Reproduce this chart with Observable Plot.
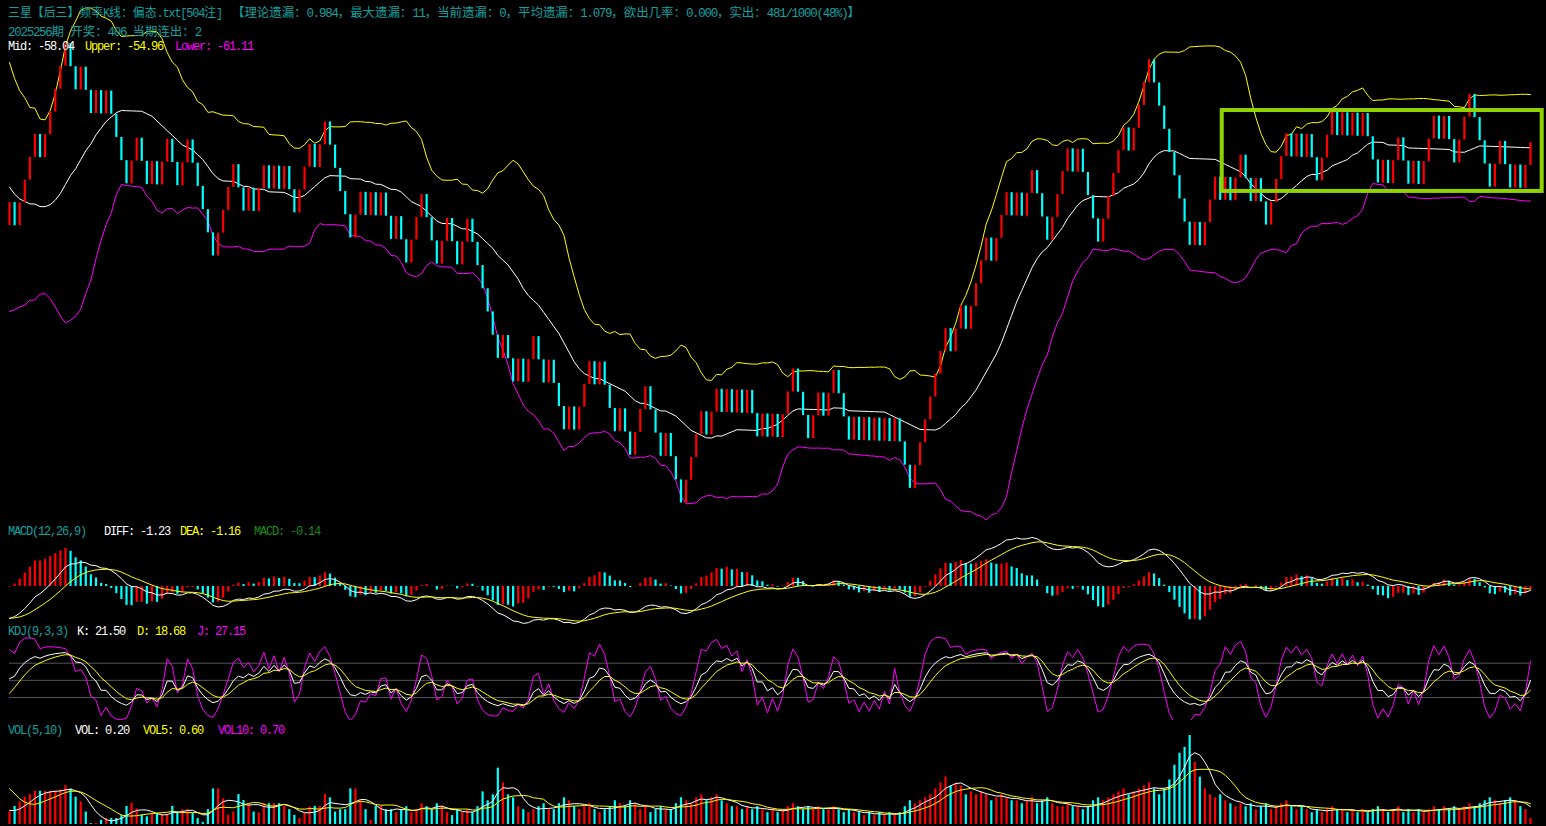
<!DOCTYPE html>
<html><head><meta charset="utf-8">
<script src="https://cdn.jsdelivr.net/npm/d3@7"></script>
<script src="https://cdn.jsdelivr.net/npm/@observablehq/plot@0.6"></script>
<style>
html,body{margin:0;padding:0;background:#000;overflow:hidden}
#chart{position:relative;width:1546px;height:826px;background:#000}
.panel{position:absolute;left:0}
.lbl{position:absolute;white-space:pre;font-size:12px;line-height:12px;font-family:"Liberation Mono","Noto Sans CJK SC",monospace;transform-origin:0 50%}
.lbl .a{letter-spacing:-1.2px}
.lbl .c{font-family:"Noto Sans CJK SC",sans-serif;letter-spacing:0}
</style></head><body><div id="chart"></div>
<script>
// ---------- data ----------
// 1 = hit (red bar, step up), 0 = miss (cyan bar, step down), bars 1..300
const outcomes = [
1,0,1,1,1,1,0,1,1,1, 1,1,0,0,1,0,0,1,0,1, 0,0,0,0,1,1,0,0,1,0, 1,1,0,0,1,1,0,0,0,0,
0,1,1,1,1,0,0,1,0,1, 1,0,1,0,1,0,0,1,1,1, 0,1,1,0,0,0,0,0,1,1, 0,1,0,1,0,0,1,0,0,1,
1,1,0,0,0,1,1,0,0,1, 1,0,0,0,0,0,0,1,0,0, 1,0,1,1,0,0,1,0,0,0, 1,0,1,1,1,0,1,0,0,0,
1,0,0,1,1,1,0,0,0,1, 0,0,0,1,1,1,1,0,1,1, 0,1,0,1,0,1,0,0,1,0, 1,0,1,1,1,0,0,0,1,1,
0,1,1,0,0,0,1,0,1,0, 1,0,1,0,1,0,0,0,1,1, 1,1,1,1,1,0,1,1,0,1, 1,1,1,0,1,1,1,0,1,0,
1,1,0,0,0,1,1,1,1,0, 1,0,0,0,0,1,1,1,1,1, 0,1,1,1,1,0,0,0,0,0, 0,0,0,1,0,1,1,1,0,1,
0,1,1,0,0,1,0,0,1,1, 1,1,0,1,0,1,0,0,1,1, 1,0,1,0,1,0,1,0,0,0, 1,0,1,1,0,0,1,0,1,1,
1,0,1,0,0,1,1,1,0,0, 0,0,1,1,0,0,1,0,1,1
];
// outcomes before the first visible bar (estimated from where the bands start)
const preOutcomes = [1,1,0,1,1,0,1,1,0,0, 0,1,0,0,1,0,1,0,0,0, 0,0,0,1,0,0,1,0,1,1];
const startClose = -62.58;   // value just before bar 1
const hitStep = 1.363;       // height of a red bar
const missStep = 1.385;      // height of a cyan bar

// volume of each bar, bars 1..300
const volumes = [
0.42,0.61,0.76,0.92,1.01,1.12,1.12,1.12,1.12,1.12, 1.17,1.31,1.20,0.92,0.76,0.42,0.03,0.03,0.14,0.20,
0.20,0.20,0.30,0.61,0.72,0.53,0.31,0.26,0.37,0.37, 0.31,0.34,0.61,0.42,0.50,0.50,0.37,0.20,0.07,0.50,
1.20,1.20,0.87,0.31,0.42,1.01,0.81,0.70,0.42,0.39, 0.70,0.70,0.70,0.70,0.61,0.50,0.31,0.20,0.37,0.59,
0.61,0.61,1.01,0.90,0.42,0.50,0.50,1.20,1.20,0.81, 0.50,0.14,0.61,0.61,0.50,0.50,0.40,0.50,0.60,0.40,
0.50,0.70,0.60,0.50,0.70,0.60,0.40,0.30,0.50,0.40, 0.50,0.40,0.60,1.10,0.80,1.00,1.90,1.40,1.00,0.90,
0.60,0.50,0.40,0.50,0.60,0.70,0.50,0.50,0.70,0.90, 0.80,0.60,0.50,0.60,0.70,0.50,0.40,0.50,0.60,0.80,
0.70,0.60,0.80,0.70,0.50,0.60,0.40,0.50,0.60,0.50, 0.50,0.70,0.90,0.80,0.70,0.90,1.00,0.80,0.90,1.00,
0.80,0.70,0.60,0.60,0.50,0.60,0.50,0.60,0.50,0.40, 0.50,0.40,0.50,0.60,0.70,0.60,0.50,0.60,0.50,0.60,
0.50,0.50,0.60,0.50,0.40,0.50,0.40,0.40,0.30,0.40, 0.30,0.40,0.30,0.40,0.30,0.40,0.60,0.80,0.70,0.80,
0.90,1.00,1.20,1.40,1.60,1.30,1.40,1.30,1.00,1.10, 1.00,1.10,1.00,0.80,0.90,1.00,0.90,0.80,0.80,0.70,
0.80,0.90,0.70,0.80,0.90,0.70,0.60,0.60,0.70,0.60, 0.60,0.50,0.60,0.80,0.90,0.80,0.90,1.00,1.10,1.20,
1.00,1.10,1.20,1.30,1.40,1.20,1.00,1.20,1.50,2.00, 2.40,2.60,3.00,2.10,1.60,1.20,1.00,0.90,1.00,0.80,
0.70,0.60,0.70,0.60,0.70,0.50,0.60,0.70,0.50,0.60, 0.70,0.80,0.60,0.50,0.60,0.50,0.40,0.50,0.40,0.50,
0.60,0.50,0.50,0.40,0.50,0.40,0.50,0.40,0.50,0.60, 0.50,0.40,0.50,0.60,0.40,0.50,0.40,0.50,0.40,0.50,
0.60,0.50,0.60,0.50,0.60,0.50,0.60,0.70,0.60,0.70, 0.80,0.90,0.80,0.70,0.80,0.90,0.80,0.60,0.50,0.20
];
const preVolumes = [1.2,2.2,2.6,2.0,1.6,1.3,0.6,0.5,0.4,0.43]; // estimated, before bar 1

// texts
const titleA = "三星【后三】频率K线：偏态.txt[504注]";
const titleB = "【理论遗漏：0.984，最大遗漏：11，当前遗漏：0，平均遗漏：1.079，欲出几率：0.000，实出：481/1000(48%)】";
const issueLine = "2025256期 开奖：406 当期连出：2";
const bollLabels = [["Mid: -58.04","#ffffff"],["Upper: -54.96","#ffff00"],["Lower: -61.11","#ff00ff"]];
const macdLabels = [["MACD(12,26,9)","#14a0a0"],["DIFF: -1.23","#ffffff"],["DEA: -1.16","#ffff00"],["MACD: -0.14","#1a8c1a"]];
const kdjLabels = [["KDJ(9,3,3)","#14a0a0"],["K: 21.50","#ffffff"],["D: 18.68","#ffff00"],["J: 27.15","#ff00ff"]];
const volLabels = [["VOL(5,10)","#14a0a0"],["VOL: 0.20","#ffffff"],["VOL5: 0.60","#ffff00"],["VOL10: 0.70","#ff00ff"]];
// highlighted box (bar numbers / values)
const highlight = [{from: 239.4, to: 302.3, top: -55.72, bottom: -60.55}];

// ---------- derived series ----------
const RED = "#ff0000", CYAN = "#00ffff", YEL = "#ffff00", MAG = "#ff00ff", WHT = "#ffffff";
const all = preOutcomes.concat(outcomes);
const P = preOutcomes.length;
let acc = 0; const raw = all.map(o => (acc += o ? hitStep : -missStep));
const shift = startClose - raw[P - 1];
const closes = raw.map(v => v + shift);
const opens = closes.map((v, i) => i ? closes[i - 1] : v - (all[0] ? hitStep : -missStep));
const highs = closes.map((c, i) => Math.max(c, opens[i]));
const lows = closes.map((c, i) => Math.min(c, opens[i]));
const allVol = preVolumes.concat(volumes);
const VP = preVolumes.length;

const rows = [];
let e12 = closes[0], e26 = closes[0], dea = 0, K = 50, D = 50, prevHist = null;
for (let i = 0; i < all.length; i++) {
  const c = closes[i];
  e12 = e12 + (c - e12) * 2 / 13;
  e26 = e26 + (c - e26) * 2 / 27;
  const diff = e12 - e26;
  dea = i ? dea + (diff - dea) * 2 / 10 : diff;
  const hist = 2 * (diff - dea);
  const w9 = d3.range(Math.max(0, i - 8), i + 1);
  const hh = d3.max(w9, j => highs[j]), ll = d3.min(w9, j => lows[j]);
  const rsv = hh > ll ? (c - ll) / (hh - ll) * 100 : 50;
  K = (2 * K + rsv) / 3; D = (2 * D + K) / 3;
  const J = 3 * K - 2 * D;
  let mid = null, upper = null, lower = null;
  if (i >= 19) {
    const win = closes.slice(i - 19, i + 1);
    mid = d3.mean(win); const sd = d3.deviation(win);
    upper = mid + 2 * sd; lower = mid - 2 * sd;
  }
  if (i >= P) {
    const b = i - P + 1, vi = VP + b - 1;
    rows.push({bar: b, open: opens[i], close: c, up: all[i] === 1,
      mid, upper, lower, diff, dea, hist,
      histUp: prevHist === null || hist >= prevHist,
      K, D, J, vol: allVol[vi],
      ma5: d3.mean(allVol.slice(vi - 4, vi + 1)),
      ma10: d3.mean(allVol.slice(vi - 9, vi + 1))});
  }
  prevHist = hist;
}

// ---------- drawing ----------
const W = 1546, N = outcomes.length;
const chart = document.getElementById("chart");
function place(svg, top) { svg.classList.add("panel"); svg.style.top = top + "px"; svg.style.background = "transparent"; chart.appendChild(svg); }
const base = {width: W, margin: 0,
  x: {domain: [1, N], range: [9, 1530], axis: null},
  color: {type: "identity"}, style: {background: "transparent"}};

// main panel
place(Plot.plot({...base, height: 522,
  y: {domain: [-80.316, -49.151], range: [522, 0], axis: null},
  marks: [
    Plot.line(rows, {x: "bar", y: "upper", stroke: YEL, strokeWidth: 1}),
    Plot.line(rows, {x: "bar", y: "mid", stroke: WHT, strokeWidth: 1}),
    Plot.line(rows, {x: "bar", y: "lower", stroke: MAG, strokeWidth: 1}),
    Plot.ruleX(rows, {x: "bar", y1: "open", y2: "close", stroke: d => d.up ? RED : CYAN, strokeWidth: 2.2}),
    Plot.rect(highlight, {x1: "from", x2: "to", y1: "top", y2: "bottom", fill: "none", stroke: "#8fd400", strokeWidth: 4})
  ]}), 0);

// MACD panel
const mExt = d3.extent(rows.flatMap(d => [d.diff, d.dea, d.hist]));
place(Plot.plot({...base, height: 106,
  y: {domain: mExt, range: [103, 17], axis: null},
  marks: [
    Plot.ruleX(rows, {x: "bar", y1: 0, y2: "hist", stroke: d => d.histUp ? RED : CYAN, strokeWidth: 2.2}),
    Plot.line(rows, {x: "bar", y: "diff", stroke: WHT, strokeWidth: 1}),
    Plot.line(rows, {x: "bar", y: "dea", stroke: YEL, strokeWidth: 1})
  ]}), 520);

// KDJ panel
place(Plot.plot({...base, height: 100,
  y: {domain: [20, 80], range: [77, 42.7], axis: null},
  marks: [
    Plot.ruleY([20, 50, 80], {x1: 1, x2: N, stroke: "#555555", strokeWidth: 1}),
    Plot.line(rows, {x: "bar", y: "J", stroke: MAG, strokeWidth: 1}),
    Plot.line(rows, {x: "bar", y: "K", stroke: WHT, strokeWidth: 1}),
    Plot.line(rows, {x: "bar", y: "D", stroke: YEL, strokeWidth: 1})
  ]}), 620);

// VOL panel
place(Plot.plot({...base, height: 96,
  y: {domain: [0, d3.max(rows, d => d.vol)], range: [94, 5], axis: null},
  marks: [
    Plot.ruleX(rows, {x: "bar", y1: 0, y2: "vol", stroke: d => d.up ? RED : CYAN, strokeWidth: 2.2}),
    Plot.line(rows, {x: "bar", y: "ma5", stroke: WHT, strokeWidth: 1}),
    Plot.line(rows, {x: "bar", y: "ma10", stroke: YEL, strokeWidth: 1})
  ]}), 730);

// texts
function label(text, left, cy, color, fitWidth) {
  const div = document.createElement("div");
  div.className = "lbl"; div.style.left = left + "px"; div.style.top = (cy - 6) + "px"; div.style.color = color;
  for (const run of text.match(/[\x00-\x7f]+|[^\x00-\x7f]+/g)) {
    const s = document.createElement("span");
    s.className = /[\x00-\x7f]/.test(run[0]) ? "a" : "c";
    s.textContent = run; div.appendChild(s);
  }
  chart.appendChild(div);
  if (fitWidth) {
    const w = div.getBoundingClientRect().width;
    if (w > 0) div.style.transform = `scaleX(${fitWidth / w})`;
  }
}
label(titleA, 8, 12, "#14a0a0", 214);
label(titleB, 232, 12, "#14a0a0", 628);
label(issueLine, 8, 31, "#14a0a0", 193);
[8, 85, 175].forEach((x, i) => label(bollLabels[i][0], x, 47, bollLabels[i][1]));
[8, 104, 180, 254].forEach((x, i) => label(macdLabels[i][0], x, 532, macdLabels[i][1]));
[8, 77, 137, 197].forEach((x, i) => label(kdjLabels[i][0], x, 632, kdjLabels[i][1]));
[8, 75, 143, 218].forEach((x, i) => label(volLabels[i][0], x, 731, volLabels[i][1]));
</script></body></html>
